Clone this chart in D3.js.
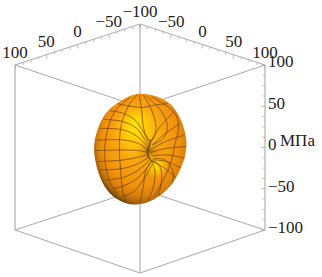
<!DOCTYPE html>
<html><head><meta charset="utf-8">
<script src="https://cdnjs.cloudflare.com/ajax/libs/d3/7.8.5/d3.min.js"></script>
<style>html,body{margin:0;padding:0;background:#fff}svg{display:block}text{font-family:"Liberation Serif",serif;fill:#222}</style>
</head><body><div id="c"></div>
<script>
const axisTicks=[-100,-50,0,50,100];
const minorTicks=d3.range(-100,101,12.5);
const zLabel="МПа";
// surface silhouette, in MPa (screen-plane u, v)
const outline=[[0,44.6],[16,42],[27,34.5],[34,21.5],[37.6,7],[37,-3],[34.5,-12],[28,-26.5],[18.5,-36.5],[8,-43],[-2.4,-45.6],[-13.6,-44],[-24.5,-37],[-32.5,-24],[-36.6,-7],[-37,3],[-34.8,14],[-28.6,29],[-16.5,38],[-6,43.4]];
// mesh lines, in MPa
const parallels=[
[[-18,36],[-8,34],[2,33],[12,35],[22,36]],
[[-24,30.4],[-13.3,28.2],[-4,22.9],[3,13],[8,6]],
[[-28.8,23.4],[-13.3,21.5],[-2.7,16.2],[4,7],[7,3]],
[[-32,16.2],[-13.3,14.9],[-2.7,10],[6.5,1]],
[[-34.7,6.8],[-13.3,6.8],[-1.3,4.1],[6,-1]],
[[-35.5,-1.7],[-13.3,-1.2],[-1.3,-1.7],[6,-3]],
[[-34,-10.6],[-13.3,-9.2],[-1.3,-7],[6,-5]],
[[-32,-17.3],[-13.3,-16],[-1.3,-12],[7,-7]],
[[-27.2,-25.3],[-13.3,-23.2],[-1.3,-17.3],[8,-9]],
[[-21.3,-32],[-13.3,-30],[-1.3,-23.2],[9,-11]],
[[-14.7,-38.7],[-5.3,-34.7],[2.7,-25.3],[9.5,-13]],
[[9,6],[16,17.5],[27.5,29.6]],
[[10,3],[18.7,10.8],[32,20.2]],
[[10,0],[20,5.4],[35.5,10.8]],
[[9,-3],[21.3,0.1],[36.8,1.5]],
[[10,-6],[22.7,-5.2],[36,-7.9]],
[[11,-9],[21.9,-10.6],[33.3,-16]],
[[11,-11],[20,-16],[29.3,-24]]
];
const meridians=[
[[-8,41],[-20,30],[-27,10],[-28,-10],[-24,-27],[-18,-37]],
[[-2.1,43],[-8,36.3],[-14.7,20.2],[-16.5,1.5],[-15.5,-17.3],[-13.3,-36],[-10.7,-42]],
[[-0.5,43],[1.3,30.9],[2.7,17.5],[5.3,8],[8,5]],
[[2.7,43],[9.3,30.9],[12.8,17.5],[11.2,9],[9,6]],
[[5.3,42],[17.3,29.6],[21.9,17.5],[18.7,8],[10,3]],
[[9.3,41.5],[28,28.2],[30.7,14.9],[28,4.1],[25.3,-9.2],[18.7,-25.3],[11.2,-38.7]],
[[10,-9],[16,-14.6],[17.3,-25.3],[14.7,-37.4]],
[[9,-10],[12,-18.6],[10.7,-30.7],[6.7,-41.4]],
[[8,-11],[4,-20],[2.7,-30.7],[0,-43]],
[[11,-8],[20,-9.2],[26.7,-19.9],[25,-30.7]]
];
const crease=[[9,7],[7,1],[6,-3],[7.5,-8],[11,-11]];
const W=322,H=277;
const svg=d3.select("#c").append("svg").attr("width",W).attr("height",H);
const u=d3.scaleLinear().domain([-100,100]).range([15,265]);
const v=d3.scaleLinear().domain([-100,100]).range([273,24]);
const topBack=[140,24],topLeft=[15,65],topRight=[265,65],topFront=[140,107];
const botFront=[140,273],botLeft=[15,230],botRight=[265,230],botBack=[140,189];
const edges=[[topLeft,topBack],[topBack,topRight],[topLeft,topFront],[topRight,topFront],[botLeft,botFront],[botFront,botRight],[botLeft,botBack],[botRight,botBack],[topLeft,botLeft],[topRight,botRight],[topBack,botBack],[topFront,botFront]];
svg.append("g").selectAll("line").data(edges).join("line")
 .attr("x1",d=>d[0][0]).attr("y1",d=>d[0][1]).attr("x2",d=>d[1][0]).attr("y2",d=>d[1][1])
 .attr("stroke","#b0b0b0").attr("stroke-width",1.2);
const xL=d3.scaleLinear().domain([100,-100]).range([0,1]);
const xR=d3.scaleLinear().domain([-100,100]).range([0,1]);
const zS=d3.scaleLinear().domain([-100,100]).range([230,65]);
const lerp=(a,b,t)=>[a[0]+(b[0]-a[0])*t,a[1]+(b[1]-a[1])*t];
const tk=svg.append("g").attr("stroke","#b0b0b0").attr("stroke-width",.8);
minorTicks.forEach(d=>{
 const major=axisTicks.includes(d),l=major?4:2.5;
 let p=lerp(topLeft,topBack,xL(d));
 tk.append("line").attr("x1",p[0]).attr("y1",p[1]).attr("x2",p[0]+.7).attr("y2",p[1]+l);
 p=lerp(topBack,topRight,xR(d));
 tk.append("line").attr("x1",p[0]).attr("y1",p[1]).attr("x2",p[0]-.7).attr("y2",p[1]+l);
 tk.append("line").attr("x1",265).attr("y1",zS(d)).attr("x2",265-l).attr("y2",zS(d));
});
const fmt=d=>d<0?"\u2212"+(-d):""+d;
const ts=svg.append("g").attr("font-size",17);
const zLab=d3.scaleLinear().domain([-100,100]).range([233,67]);
axisTicks.forEach(d=>{
 const a=lerp(topLeft,topBack,xL(d));
 ts.append("text").attr("x",a[0]).attr("y",a[1]-7.5).attr("text-anchor","middle").text(fmt(d));
 const b=lerp(topBack,topRight,xR(d));
 if(d>-100) ts.append("text").attr("x",b[0]).attr("y",b[1]-7.5).attr("text-anchor","middle").text(fmt(d));
 ts.append("text").attr("x",268).attr("y",zLab(d)).text(fmt(d));
});
ts.append("text").attr("x",280).attr("y",146).text(zLabel);
const defs=svg.append("defs");
const g=defs.append("radialGradient").attr("id","sf")
 .attr("cx",.53).attr("cy",.47).attr("r",.56).attr("fx",.43).attr("fy",.27);
[[0,"#ffe600"],[.2,"#ffcc08"],[.45,"#f9a610"],[.75,"#ee900c"],[.86,"#d9800a"],[.94,"#a8660a"],[1,"#5e3a06"]].forEach(s=>g.append("stop").attr("offset",s[0]).attr("stop-color",s[1]));
const dm=defs.append("radialGradient").attr("id","dm").attr("gradientUnits","userSpaceOnUse")
 .attr("cx",u(7)).attr("cy",v(-2)).attr("r",13);
[[0,"#5a3300",.7],[.4,"#8a5508",.25],[1,"#a56a10",0]].forEach(s=>dm.append("stop").attr("offset",s[0]).attr("stop-color",s[1]).attr("stop-opacity",s[2]));
const yl=defs.append("radialGradient").attr("id","yl").attr("gradientUnits","userSpaceOnUse")
 .attr("cx",u(13)).attr("cy",v(-14)).attr("r",12);
[[0,"#ffe000",1],[.6,"#ffd000",.6],[1,"#ffc800",0]].forEach(s=>yl.append("stop").attr("offset",s[0]).attr("stop-color",s[1]).attr("stop-opacity",s[2]));
const line=d3.line().x(d=>u(d[0])).y(d=>v(d[1])).curve(d3.curveCatmullRom.alpha(.5));
const area=d3.line().x(d=>u(d[0])).y(d=>v(d[1])).curve(d3.curveBasisClosed);
defs.append("clipPath").attr("id","cp").append("path").attr("d",area(outline));
svg.append("path").attr("d",area(outline)).attr("fill","url(#sf)");
svg.append("path").attr("d",area(outline)).attr("fill","url(#yl)");
svg.append("path").attr("d",area(outline)).attr("fill","url(#dm)");
const mesh=svg.append("g").attr("clip-path","url(#cp)").attr("fill","none").attr("stroke","#74400f").attr("stroke-width",.85).attr("stroke-opacity",.85);
mesh.selectAll(".p").data(parallels).join("path").attr("class","p").attr("d",line);
mesh.selectAll(".m").data(meridians).join("path").attr("class","m").attr("d",line);
mesh.append("path").attr("d",line(crease)).attr("stroke","#4e2c05").attr("stroke-width",1.1);
</script></body></html>
